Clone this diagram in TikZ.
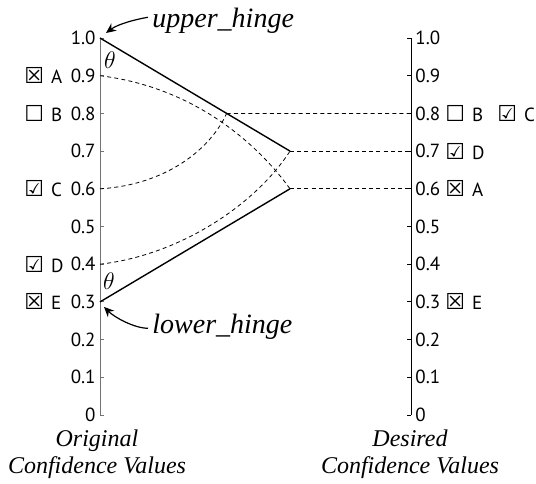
\documentclass[tikz,border=0pt]{standalone}
\usepackage{fontspec}
\setmainfont{Liberation Serif}
\setsansfont{PT Sans}
\newfontfamily\symfont{DejaVu Sans}
\newfontfamily\serifit{Liberation Serif}
\usetikzlibrary{arrows.meta,calc}
\newcommand{\boxglyph}[1]{{\symfont\fontsize{11}{12}\selectfont #1}\hspace{3.5pt}}
\newcommand{\boxno}{\boxglyph{☐}}
\newcommand{\boxok}{\boxglyph{☑}}
\newcommand{\boxx}{\boxglyph{☒}}

\begin{document}
\begin{tikzpicture}[
  x=0.5pt,y=-0.5pt,
  every node/.style={inner sep=0pt},
  num/.style={font=\sffamily\fontsize{9.5}{11}\selectfont},
  tag/.style={font=\sffamily\fontsize{9.5}{11}\selectfont,anchor=west},
  lab/.style={font=\serifit\itshape\fontsize{12}{14}\selectfont,anchor=base},
  hinge/.style={font=\serifit\itshape\fontsize{14}{16}\selectfont,anchor=base west},
  angle/.style={font=\fontsize{12.5}{14}\selectfont},
  axis/.style={line width=0.45pt},
  ray/.style={line width=0.7pt},
  map/.style={line width=0.4pt,dash pattern=on 2pt off 1.6pt},
  arr/.style={-{Stealth[length=5pt,width=4.5pt]},line width=0.6pt}
]
\useasboundingbox (0,0) rectangle (536,483);
\coordinate (ltop) at (100,38);
\coordinate (lbot) at (100,415);
\coordinate (rtop) at (411,38);
\coordinate (rbot) at (411,415);
\coordinate (tagL) at (24,0);
\coordinate (tagR) at (445,0);
\coordinate (tagRR) at (497,0);
% axes and ticks
\draw[axis,black!55] (ltop) -- (lbot);
\draw[axis] (rtop) -- (rbot);
\foreach \v/\t in {0/0,1/0.1,2/0.2,3/0.3,4/0.4,5/0.5,6/0.6,7/0.7,8/0.8,9/0.9,10/1.0}{
  \coordinate (l\v) at ($(lbot)!\v/10!(ltop)$);
  \coordinate (r\v) at ($(rbot)!\v/10!(rtop)$);
  \draw[axis,black!55] (l\v) -- ++(4,0);
  \draw[axis] (r\v) -- ++(-4,0);
  \node[num,anchor=east] (ln\v) at ([xshift=-2pt]l\v) {\t};
  \node[num,anchor=west] (rn\v) at ([xshift=2pt]r\v) {\t};
}
% original labels
\node[tag] (oA) at (tagL |- l9) {\boxx A};
\node[tag] (oB) at (tagL |- l8) {\boxno B};
\node[tag] (oC) at (tagL |- l6) {\boxok C};
\node[tag] (oD) at (tagL |- l4) {\boxok D};
\node[tag] (oE) at (tagL |- l3) {\boxx E};
% desired labels
\node[tag] (dB) at (tagR |- r8) {\boxno B};
\node[tag] (dC) at (tagRR |- r8) {\boxok C};
\node[tag] (dD) at (tagR |- r7) {\boxok D};
\node[tag] (dA) at (tagR |- r6) {\boxx A};
\node[tag] (dE) at (tagR |- r3) {\boxx E};
% hinges
\coordinate (uh) at (l10);
\coordinate (lh) at (l3);
\coordinate (p7) at ($(r7)+(-121,0)$);
\coordinate (p6) at ($(r6)+(-121,0)$);
\coordinate (p8) at ($(uh)!2/3!(p7)$);
\draw[ray] (uh) -- (p7);
\draw[ray] (lh) -- (p6);
\node[angle] (th1) at (110,60) {$\theta$};
\node[angle] (th2) at (109,281) {$\theta$};
% mappings
\draw[map] (p8) -- (r8);
\draw[map] (p7) -- (r7);
\draw[map] (p6) -- (r6);
\draw[map] (l9) .. controls (200,88) and (262,150) .. (p6);
\draw[map] (l6) .. controls (165,185) and (210,150) .. (p8);
\draw[map] (l4) .. controls (180,255) and (255,205) .. (p7);
% hinge labels
\node[hinge] (upl) at (152,27) {upper\_hinge};
\node[hinge] (lol) at (152,333) {lower\_hinge};
\draw[arr] ([xshift=-2pt,yshift=1.5pt]upl.west) .. controls +(-12,2) and +(12,-9) .. ([xshift=3pt,yshift=2.5pt]uh);
\draw[arr] ([xshift=-2pt,yshift=-1pt]lol.west) .. controls +(-14,0) and +(10,10) .. ([xshift=2pt,yshift=-2.5pt]lh);
% axis titles
\node[lab] (o1) at (97,446) {Original};
\node[lab] (o2) at (97,473) {Confidence Values};
\node[lab] (d1) at (410,446) {Desired};
\node[lab] (d2) at (410,473) {Confidence Values};
\end{tikzpicture}
\end{document}
